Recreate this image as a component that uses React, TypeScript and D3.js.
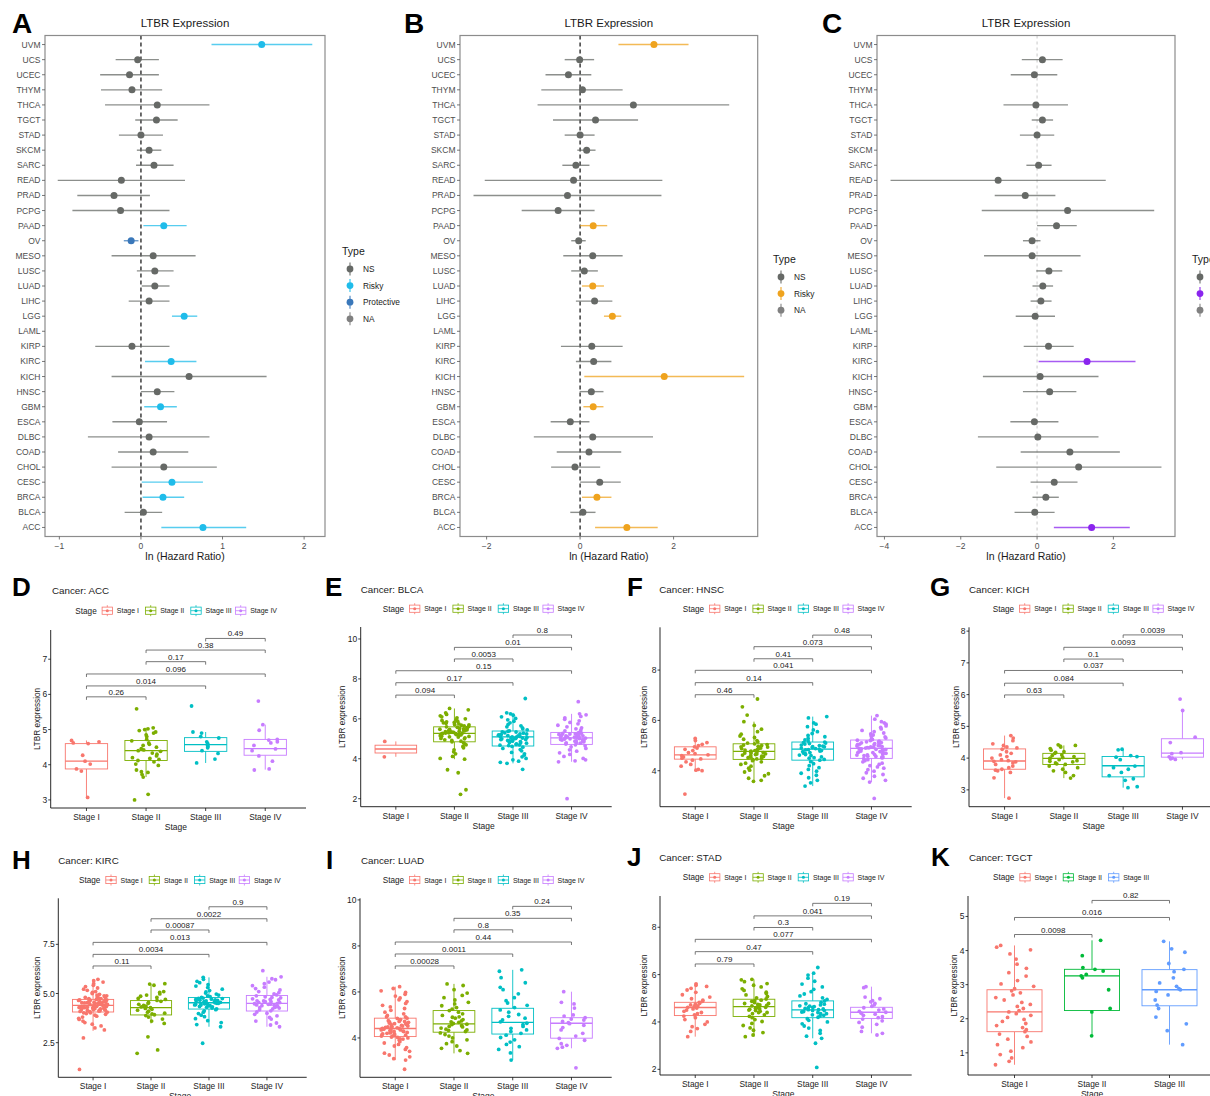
import React from "react";
import * as d3 from "d3";

const FONT = "'Liberation Sans', Arial, Helvetica, sans-serif";

// ---------- Forest plots (ln hazard ratio with 95% CI) ----------
const cancers = ["UVM","UCS","UCEC","THYM","THCA","TGCT","STAD","SKCM","SARC","READ","PRAD","PCPG","PAAD","OV","MESO","LUSC","LUAD","LIHC","LGG","LAML","KIRP","KIRC","KICH","HNSC","GBM","ESCA","DLBC","COAD","CHOL","CESC","BRCA","BLCA","ACC"];

const lnHrA = [1.48,-0.04,-0.14,-0.11,0.20,0.19,0.00,0.10,0.16,-0.24,-0.33,-0.25,0.28,-0.12,0.15,0.17,0.17,0.10,0.53,null,-0.11,0.37,0.59,0.20,0.24,-0.02,0.10,0.15,0.28,0.38,0.27,0.03,0.76];
const lowA = [0.865,-0.31,-0.50,-0.49,-0.44,-0.07,-0.27,-0.05,-0.06,-1.02,-0.78,-0.84,0.03,-0.21,-0.36,-0.05,0.01,-0.15,0.38,null,-0.56,0.05,-0.36,0.0,0.04,-0.35,-0.65,-0.28,-0.36,0.01,0.02,-0.20,0.25];
const highA = [2.10,0.22,0.22,0.26,0.84,0.45,0.27,0.25,0.40,0.54,0.11,0.35,0.56,-0.03,0.67,0.40,0.35,0.35,0.69,null,0.35,0.68,1.54,0.41,0.44,0.32,0.84,0.58,0.93,0.76,0.53,0.26,1.29];
const typeA = ["Risky","NS","NS","NS","NS","NS","NS","NS","NS","NS","NS","NS","Risky","Protective","NS","NS","NS","NS","Risky",null,"NS","Risky","NS","NS","Risky","NS","NS","NS","NS","Risky","Risky","NS","Risky"];

const lnHrB = [1.58,-0.01,-0.25,0.05,1.14,0.33,0.0,0.14,-0.09,-0.14,-0.27,-0.47,0.28,-0.03,0.27,0.09,0.27,0.31,0.69,null,0.25,0.29,1.80,0.24,0.28,-0.21,0.27,0.19,-0.11,0.42,0.36,0.06,1.0];
const lowB = [0.82,-0.33,-0.74,-0.83,-0.91,-0.58,-0.33,-0.06,-0.38,-2.04,-2.28,-1.25,0.0,-0.19,-0.36,-0.19,0.04,-0.09,0.51,null,-0.41,-0.09,0.09,-0.01,0.07,-0.63,-0.99,-0.5,-0.62,0.0,0.04,-0.21,0.32];
const highB = [2.32,0.30,0.24,0.91,3.19,1.24,0.31,0.33,0.20,1.76,1.74,0.31,0.58,0.12,0.91,0.38,0.51,0.69,0.88,null,0.91,0.67,3.51,0.5,0.5,0.20,1.56,0.88,0.43,0.87,0.67,0.33,1.66];
const typeB = ["Risky","NS","NS","NS","NS","NS","NS","NS","NS","NS","NS","NS","Risky","NS","NS","NS","Risky","NS","Risky",null,"NS","NS","Risky","NS","Risky","NS","NS","NS","NS","NS","Risky","NS","Risky"];

const lnHrC = [null,0.14,-0.07,null,-0.03,0.14,0.0,null,0.04,-1.02,-0.31,0.80,0.51,-0.13,-0.13,0.31,0.15,0.10,-0.05,null,0.30,1.31,0.08,0.33,null,-0.07,0.02,0.86,1.09,0.45,0.23,-0.06,1.43];
const lowC = [null,-0.40,-0.69,null,-0.88,-0.14,-0.45,null,-0.28,-3.84,-1.11,-1.45,0.0,-0.37,-1.39,-0.02,-0.12,-0.17,-0.56,null,-0.35,0.04,-1.42,-0.37,null,-0.70,-1.55,-0.43,-1.07,-0.17,-0.12,-0.59,0.44];
const highC = [null,0.67,0.53,null,0.81,0.42,0.45,null,0.38,1.80,0.48,3.07,1.04,0.09,1.14,0.66,0.42,0.38,0.47,null,0.96,2.58,1.61,1.03,null,0.56,1.61,2.17,3.26,1.06,0.57,0.46,2.43];
const typeC = [null,"NS","NS",null,"NS","NS","NS",null,"NS","NS","NS","NS","NS","NS","NS","NS","NS","NS","NS",null,"NS","Risky","NS","NS",null,"NS","NS","NS","NS","NS","NS","NS","Risky"];

const ticksA = [-1, 0, 1, 2];
const ticksB = [-2, 0, 2];
const ticksC = [-4, -2, 0, 2];
const legendA = ["NS", "Risky", "Protective", "NA"];
const legendBC = ["NS", "Risky", "NA"];

// ---------- Box plots by stage ----------
const stages4 = ["Stage I", "Stage II", "Stage III", "Stage IV"];
const stages3 = ["Stage I", "Stage II", "Stage III"];
const stageColors = ["#F8766D", "#7CAE00", "#00BFC4", "#C77CFF"];
const stageColors3 = ["#F8766D", "#00BA38", "#619CFF"];
const pairs4 = [[0,1],[0,2],[0,3],[1,2],[1,3],[2,3]];
const pairs3 = [[0,1],[0,2],[1,2]];

// box stats: [lower whisker, Q1, median, Q3, upper whisker]
const accBoxes = [[3.07,3.88,4.10,4.60,4.69],[3.65,4.12,4.40,4.69,5.05],[4.05,4.38,4.57,4.77,4.93],[3.86,4.27,4.46,4.72,5.14]];
const accPoints = [
  [4.69,4.65,4.62,4.60,4.27,4.10,4.02,3.88,3.82,3.07],
  [5.59,5.05,5.02,5.00,4.97,4.93,4.90,4.85,4.80,4.72,4.68,4.62,4.58,4.55,4.50,4.46,4.42,4.40,4.38,4.33,4.30,4.25,4.20,4.18,4.15,4.12,4.08,4.02,3.98,3.85,3.80,3.78,3.72,3.65,3.16,3.00],
  [5.67,4.93,4.90,4.80,4.76,4.65,4.60,4.55,4.52,4.48,4.40,4.32,4.16,4.05],
  [5.81,5.14,4.98,4.72,4.70,4.65,4.62,4.55,4.45,4.40,4.25,4.10,3.88,3.85],
];
const accP = ["0.26","0.014","0.096","0.17","0.38","0.49"];
const accBracketY = [5.93,6.24,6.58,6.93,7.26,7.59];

const blcaBoxes = [[4.10,4.29,4.49,4.68,4.87],[3.98,4.85,5.27,5.60,6.52],[3.77,4.64,5.10,5.39,6.30],[3.85,4.72,5.05,5.32,6.25]];
const blcaPoints = [
  [4.87,4.10],
  [6.52,6.45,6.30,6.22,6.15,6.10,6.05,6.00,5.95,5.92,5.88,5.85,5.82,5.80,5.78,5.75,5.72,5.70,5.68,5.65,5.62,5.60,5.58,5.55,5.52,5.50,5.48,5.45,5.42,5.40,5.38,5.35,5.32,5.30,5.28,5.27,5.25,5.22,5.20,5.18,5.15,5.12,5.10,5.05,5.00,4.95,4.92,4.88,4.85,4.80,4.75,4.70,4.62,4.55,4.45,4.35,4.25,4.12,4.02,3.98,3.45,3.30,2.45,2.22,5.33,5.21,5.44,5.13,5.56,5.26,5.38,5.09,5.47,5.29,5.17,5.41,5.23,5.36,5.02],
  [7.02,6.30,6.25,6.18,6.10,6.02,5.95,5.88,5.80,5.72,5.65,5.60,5.55,5.50,5.45,5.40,5.38,5.35,5.30,5.25,5.22,5.18,5.15,5.12,5.10,5.08,5.05,5.02,5.00,4.97,4.93,4.90,4.86,4.82,4.78,4.75,4.70,4.66,4.62,4.58,4.52,4.46,4.40,4.32,4.25,4.18,4.10,4.02,3.95,3.88,3.82,3.77,3.47,5.06,4.96,5.16,4.88,5.24,5.00,5.12,4.80,5.28,4.92,5.20,4.72,5.04,5.34,4.68],
  [6.86,6.25,6.20,6.12,6.05,5.98,5.90,5.82,5.75,5.68,5.60,5.55,5.50,5.45,5.40,5.36,5.32,5.30,5.27,5.24,5.20,5.17,5.14,5.10,5.08,5.05,5.03,5.00,4.97,4.94,4.90,4.86,4.82,4.78,4.74,4.70,4.65,4.60,4.52,4.45,4.38,4.30,4.22,4.12,4.02,3.95,3.90,3.85,2.00,5.01,5.12,4.92,5.22,4.85,5.06,5.18,4.95,5.28,4.88,5.10,4.99,5.15,4.80,5.25],
];
const blcaP = ["0.094","0.17","0.15","0.0053","0.01","0.8"];
const blcaBracketY = [7.19,7.81,8.41,9.0,9.58,10.2];

const hnscBoxes = [[4.00,4.46,4.63,4.95,5.28],[3.58,4.45,4.77,5.07,5.95],[3.39,4.42,4.86,5.14,6.15],[3.55,4.49,4.89,5.22,6.19]];
const hnscPoints = [
  [5.28,5.20,5.12,5.05,5.00,4.95,4.90,4.85,4.80,4.72,4.68,4.63,4.60,4.55,4.50,4.47,4.42,4.35,4.25,4.18,4.05,4.02,4.00,3.07],
  [6.85,6.54,6.21,5.95,5.80,5.65,5.55,5.45,5.38,5.32,5.25,5.20,5.15,5.10,5.07,5.04,5.00,4.97,4.94,4.90,4.87,4.84,4.80,4.78,4.75,4.72,4.70,4.67,4.64,4.60,4.57,4.54,4.50,4.47,4.44,4.40,4.35,4.30,4.25,4.18,4.10,4.02,3.95,3.88,3.80,3.70,3.62,3.58,4.82,4.66,4.95,4.58,4.74,5.02,4.52,4.88,4.70,4.62],
  [6.15,6.10,5.90,5.85,5.75,5.62,5.55,5.48,5.40,5.35,5.28,5.22,5.18,5.14,5.10,5.06,5.02,4.98,4.95,4.92,4.88,4.86,4.83,4.80,4.76,4.72,4.68,4.64,4.60,4.55,4.50,4.45,4.42,4.36,4.28,4.20,4.12,4.05,3.98,3.90,3.82,3.72,3.62,3.52,3.39,4.90,4.70,5.00,4.62,4.84,5.08,4.52,4.96,4.78,5.12],
  [6.19,6.05,5.95,5.90,5.85,5.78,5.72,5.66,5.60,5.55,5.50,5.46,5.42,5.38,5.34,5.30,5.27,5.24,5.21,5.18,5.15,5.12,5.09,5.06,5.03,5.00,4.98,4.95,4.93,4.91,4.89,4.87,4.84,4.81,4.78,4.75,4.72,4.69,4.66,4.63,4.60,4.57,4.54,4.51,4.48,4.44,4.40,4.35,4.30,4.25,4.20,4.15,4.10,4.04,3.98,3.92,3.85,3.78,3.70,3.62,3.55,2.90,4.92,4.76,5.04,4.68,4.85,5.15,4.58,4.96,4.72,5.08,4.64,4.88,5.20,4.55,4.82,4.99,4.70,5.11,4.62,4.90],
];
const hnscP = ["0.46","0.14","0.041","0.41","0.073","0.48"];
const hnscBracketY = [7.02,7.50,7.99,8.45,8.93,9.39];

const kichBoxes = [[2.74,3.65,3.91,4.29,4.71],[3.37,3.80,3.99,4.15,4.40],[3.07,3.41,3.76,4.05,4.28],[3.96,4.03,4.16,4.61,5.50]];
const kichPoints = [
  [4.71,4.63,4.55,4.45,4.40,4.35,4.32,4.28,4.20,4.15,4.10,4.05,4.00,3.95,3.92,3.90,3.88,3.85,3.80,3.75,3.70,3.65,3.62,3.60,3.55,3.38,2.74],
  [4.42,4.40,4.38,4.35,4.30,4.25,4.20,4.18,4.15,4.10,4.08,4.05,4.02,4.00,3.98,3.95,3.92,3.90,3.88,3.85,3.82,3.80,3.75,3.70,3.65,3.60,3.55,3.45,3.37],
  [4.28,4.26,4.08,4.05,4.03,3.95,3.75,3.70,3.65,3.55,3.45,3.35,3.30,3.10,3.07],
  [5.86,5.50,4.66,4.49,4.17,4.14,4.04,4.00,3.96,3.98],
];
const kichP = ["0.63","0.084","0.037","0.1","0.0093","0.0039"];
const kichBracketY = [5.99,6.36,6.76,7.12,7.49,7.88];

const kircBoxes = [[3.10,4.06,4.40,4.70,5.72],[3.48,3.91,4.28,4.64,5.48],[3.31,4.21,4.53,4.80,5.82],[3.31,4.11,4.50,4.90,5.85]];
const kircPoints = [
  [5.72,5.65,5.58,5.50,5.42,5.35,5.28,5.22,5.16,5.10,5.05,5.00,4.96,4.92,4.88,4.84,4.80,4.77,4.74,4.71,4.68,4.65,4.62,4.59,4.56,4.53,4.50,4.47,4.44,4.41,4.38,4.35,4.32,4.29,4.26,4.23,4.20,4.17,4.14,4.11,4.08,4.05,4.02,3.98,3.94,3.90,3.85,3.80,3.74,3.68,3.60,3.52,3.44,3.35,3.25,3.15,2.74,1.14,4.45,4.36,4.52,4.28,4.60,4.15,4.70,4.40,4.33,4.57,4.22,4.48,4.43,4.37,4.55,4.31,4.62,4.19,4.66,4.49,4.27,4.58,4.12,4.74,4.34,4.46,4.09,4.81,4.25,4.53,4.39,4.02,4.67,4.30,4.88,4.16,4.44],
  [5.50,5.48,5.42,5.10,5.05,4.98,4.92,4.86,4.80,4.75,4.70,4.65,4.60,4.55,4.50,4.45,4.40,4.36,4.32,4.28,4.24,4.20,4.15,4.10,4.05,4.00,3.96,3.92,3.88,3.80,3.70,3.60,3.48,2.80,2.13,1.96],
  [5.82,5.72,5.62,5.55,5.45,5.38,5.30,5.22,5.15,5.08,5.02,4.97,4.92,4.88,4.84,4.80,4.77,4.74,4.71,4.68,4.65,4.62,4.59,4.56,4.53,4.50,4.47,4.44,4.41,4.38,4.34,4.30,4.26,4.22,4.18,4.12,4.05,3.98,3.90,3.82,3.72,3.62,3.52,3.42,3.31,2.47,4.55,4.45,4.62,4.38,4.70,4.50,4.32,4.66,4.58,4.42,4.75,4.48],
  [6.16,5.85,5.75,5.70,5.58,5.50,5.40,5.32,5.25,5.18,5.10,5.04,4.98,4.93,4.88,4.83,4.78,4.73,4.68,4.63,4.58,4.54,4.50,4.46,4.42,4.38,4.34,4.30,4.26,4.22,4.17,4.12,4.06,4.00,3.94,3.86,3.78,3.70,3.60,3.50,3.40,3.31,4.55,4.40,4.70,4.35,4.62,4.48,4.80,4.28,4.58,4.45],
];
const kircP = ["0.11","0.0034","0.013","0.00087","0.0022","0.9"];
const kircBracketY = [6.40,6.99,7.60,8.23,8.80,9.41];

const luadBoxes = [[3.04,4.06,4.41,4.86,6.23],[3.33,4.25,4.61,5.19,6.35],[3.04,4.17,4.68,5.29,6.96],[3.55,3.99,4.64,4.88,6.01]];
const luadPoints = [
  [6.23,6.15,6.05,5.98,5.90,5.82,5.74,5.66,5.58,5.50,5.42,5.35,5.28,5.20,5.12,5.05,4.98,4.92,4.86,4.80,4.75,4.70,4.65,4.60,4.56,4.52,4.48,4.44,4.41,4.38,4.35,4.32,4.28,4.24,4.20,4.16,4.12,4.08,4.04,4.00,3.95,3.90,3.84,3.78,3.72,3.65,3.58,3.50,3.42,3.34,3.26,3.18,3.10,3.04,2.64,4.50,4.30,4.62,4.18,4.72,4.40,4.10,4.55,4.25,4.85,4.46,4.22,4.58,4.14,4.68,4.35,4.02,4.52,4.28,4.78,4.42,4.08,4.62,4.32,4.92,3.96,4.48,4.18,4.72,4.38],
  [6.35,6.28,6.10,5.95,5.85,5.75,5.65,5.55,5.48,5.40,5.32,5.25,5.19,5.12,5.05,4.98,4.92,4.86,4.80,4.74,4.68,4.63,4.58,4.53,4.48,4.43,4.38,4.33,4.28,4.22,4.15,4.08,4.00,3.92,3.84,3.75,3.65,3.55,3.45,3.33,4.60,4.70,4.50,4.90,4.35],
  [6.96,6.90,6.62,6.40,6.20,6.10,5.92,5.75,5.62,5.52,5.42,5.32,5.22,5.12,5.02,4.94,4.86,4.78,4.70,4.64,4.58,4.50,4.42,4.35,4.28,4.20,4.12,4.02,3.92,3.82,3.72,3.62,3.50,3.35,3.04],
  [6.01,5.55,5.48,5.30,5.00,4.95,4.88,4.82,4.78,4.72,4.66,4.62,4.55,4.45,4.35,4.20,4.08,3.98,3.90,3.75,3.68,3.60,3.55,2.70],
];
const luadP = ["0.00028","0.0011","0.44","0.8","0.35","0.24"];
const luadBracketY = [7.13,7.65,8.17,8.70,9.20,9.72];

const stadBoxes = [[3.38,4.27,4.61,4.83,5.61],[3.38,4.23,4.65,4.96,5.80],[3.31,4.18,4.51,4.89,6.06],[3.52,4.15,4.41,4.62,5.49]];
const stadPoints = [
  [5.61,5.55,5.50,5.42,5.35,5.25,5.15,5.05,4.98,4.92,4.87,4.83,4.79,4.75,4.72,4.68,4.65,4.62,4.59,4.55,4.50,4.45,4.40,4.35,4.30,4.25,4.18,4.10,4.00,3.90,3.80,3.72,3.60,3.38],
  [5.80,5.78,5.70,5.62,5.55,5.48,5.40,5.33,5.26,5.20,5.14,5.08,5.02,4.97,4.92,4.87,4.82,4.78,4.74,4.70,4.66,4.62,4.58,4.54,4.50,4.45,4.40,4.35,4.30,4.24,4.18,4.10,4.02,3.94,3.85,3.75,3.65,3.55,3.45,3.38,4.68,4.55,4.78,4.48,4.62,4.85,4.40,4.72,4.58,4.90],
  [6.30,6.06,5.98,5.85,5.72,5.60,5.48,5.38,5.28,5.18,5.10,5.02,4.95,4.89,4.83,4.77,4.72,4.67,4.62,4.57,4.52,4.48,4.44,4.40,4.35,4.30,4.25,4.20,4.14,4.07,4.00,3.92,3.83,3.74,3.64,3.52,3.40,3.31,3.10,2.08,4.55,4.42,4.65,4.35,4.60,4.48,4.75,4.28,4.52,4.68],
  [5.49,5.45,5.05,4.98,4.90,4.85,4.78,4.72,4.66,4.60,4.55,4.50,4.45,4.41,4.37,4.33,4.28,4.22,4.18,4.12,4.05,3.98,3.90,3.78,3.60,3.52,3.45],
];
const stadP = ["0.79","0.47","0.077","0.3","0.041","0.19"];
const stadBracketY = [6.45,6.97,7.49,7.99,8.48,9.01];

const tgctBoxes = [[0.65,1.62,2.20,2.85,4.15],[1.50,2.24,3.26,3.45,4.30],[1.24,2.38,2.85,3.44,4.27]];
const tgctPoints = [
  [4.15,4.10,4.02,3.90,3.75,3.60,3.48,3.35,3.25,3.12,3.02,2.95,2.88,2.82,2.76,2.70,2.62,2.55,2.48,2.42,2.36,2.30,2.24,2.20,2.15,2.10,2.04,1.98,1.92,1.86,1.80,1.74,1.68,1.62,1.55,1.48,1.40,1.32,1.24,1.15,1.05,0.95,0.85,0.75,0.65],
  [4.30,3.85,3.50,3.45,3.40,3.30,3.26,3.20,2.85,2.30,2.20,1.50],
  [4.27,4.05,3.95,3.62,3.45,3.38,3.20,3.05,2.95,2.88,2.85,2.80,2.70,2.55,2.40,2.30,2.05,1.85,1.65,1.24],
];
const tgctP = ["0.0098","0.016","0.82"];
const tgctBracketY = [4.47,4.97,5.47];

// ---------- Layout ----------
const FT = 35.5;
const FB = 536.5;

const forestPanels = [
  { letter: "A", lx: 12, x0: 45, x1: 325, est: lnHrA, lo: lowA, hi: highA, type: typeA, ticks: ticksA,
    colors: { NS: "#666966", Risky: "#1FBCEA", Protective: "#3A78BA", NA: "#808080" }, legend: legendA, legX: 342, legY: 251,
    zero: { color: "#3c3c3c", width: 1.5, dash: "4,3" } },
  { letter: "B", lx: 404, x0: 460, x1: 757.7, est: lnHrB, lo: lowB, hi: highB, type: typeB, ticks: ticksB,
    colors: { NS: "#666966", Risky: "#EFA31E", NA: "#808080" }, legend: legendBC, legX: 773, legY: 259,
    zero: { color: "#3c3c3c", width: 1.5, dash: "4,3" } },
  { letter: "C", lx: 822, x0: 877, x1: 1175, est: lnHrC, lo: lowC, hi: highC, type: typeC, ticks: ticksC,
    colors: { NS: "#666966", Risky: "#8A24EE", NA: "#808080" }, legend: legendBC, legX: 1192, legY: 259,
    zero: { color: "#c8c8c8", width: 1, dash: "3,3" } },
];

const boxPanels = [
  { letter: "D", lx: 12, ly: 596, name: "ACC", tx: 52, ty: 594, legX: 75.3, legY: 610.7, axL: 50.7, axR: 301, axT: 630, axB: 808, yDom: [2.77, 7.83], yTicks: [3,4,5,6,7], yFmt: "d", ylab: -14,
    stages: stages4, colors: stageColors, boxes: accBoxes, points: accPoints, pv: accP, br: accBracketY, pairs: pairs4 },
  { letter: "E", lx: 325, ly: 596, name: "BLCA", tx: 360.7, ty: 593, legX: 382.7, legY: 608.7, axL: 360.7, axR: 606.7, axT: 627, axB: 806.7, yDom: [1.6, 10.6], yTicks: [2,4,6,8,10], yFmt: "d", ylab: -19,
    stages: stages4, colors: stageColors, boxes: blcaBoxes, points: blcaPoints, pv: blcaP, br: blcaBracketY, pairs: pairs4 },
  { letter: "F", lx: 627, ly: 596, name: "HNSC", tx: 659.3, ty: 593, legX: 682.7, legY: 608.7, axL: 660, axR: 906.7, axT: 627.3, axB: 806.7, yDom: [2.57, 9.70], yTicks: [4,6,8], yFmt: "d", ylab: -16,
    stages: stages4, colors: stageColors, boxes: hnscBoxes, points: hnscPoints, pv: hnscP, br: hnscBracketY, pairs: pairs4 },
  { letter: "G", lx: 930, ly: 596, name: "KICH", tx: 969, ty: 593, legX: 992.7, legY: 608.7, axL: 969, axR: 1218, axT: 627.3, axB: 806.7, yDom: [2.47, 8.12], yTicks: [3,4,5,6,7,8], yFmt: "d", ylab: -13.5,
    stages: stages4, colors: stageColors, boxes: kichBoxes, points: kichPoints, pv: kichP, br: kichBracketY, pairs: pairs4 },
  { letter: "H", lx: 12, ly: 869, name: "KIRC", tx: 58.3, ty: 864, legX: 79, legY: 880, axL: 58.3, axR: 301.7, axT: 898.3, axB: 1077.3, yDom: [0.74, 9.84], yTicks: [2.5,5,7.5], yFmt: ".1f", ylab: -21.6,
    stages: stages4, colors: stageColors, boxes: kircBoxes, points: kircPoints, pv: kircP, br: kircBracketY, pairs: pairs4 },
  { letter: "I", lx: 326, ly: 869, name: "LUAD", tx: 361, ty: 864, legX: 382.7, legY: 880, axL: 360, axR: 606.7, axT: 898.3, axB: 1077.3, yDom: [2.29, 10.07], yTicks: [4,6,8,10], yFmt: "d", ylab: -18.3,
    stages: stages4, colors: stageColors, boxes: luadBoxes, points: luadPoints, pv: luadP, br: luadBracketY, pairs: pairs4 },
  { letter: "J", lx: 627, ly: 866, name: "STAD", tx: 659.3, ty: 860.5, legX: 682.7, legY: 877.3, axL: 660, axR: 906.7, axT: 896, axB: 1075, yDom: [1.76, 9.32], yTicks: [2,4,6,8], yFmt: "d", ylab: -16,
    stages: stages4, colors: stageColors, boxes: stadBoxes, points: stadPoints, pv: stadP, br: stadBracketY, pairs: pairs4 },
  { letter: "K", lx: 931, ly: 866, name: "TGCT", tx: 969, ty: 860.5, legX: 993, legY: 877.3, axL: 968, axR: 1216, axT: 896, axB: 1075, yDom: [0.35, 5.6], yTicks: [1,2,3,4,5], yFmt: "d", ylab: -14,
    stages: stages3, colors: stageColors3, boxes: tgctBoxes, points: tgctPoints, pv: tgctP, br: tgctBracketY, pairs: pairs3 },
];

const legendKeyOffsets = [32, 75.4, 120.7, 165.4];

// deterministic horizontal jitter for the stage points
function jitter(i: number, g: number) {
  const s = Math.sin(i * 12.9898 + g * 78.233) * 43758.5453;
  return s - Math.floor(s) - 0.5;
}

function Forest({ p }: { p: any }) {
  const y = d3.scalePoint<string>().domain(cancers).range([FT, FB]).padding(0.6);
  const vals = [...p.lo, ...p.hi].filter((v: any) => v != null) as number[];
  const [mn, mx] = d3.extent(vals) as [number, number];
  const pad = (mx - mn) * 0.05;
  const x = d3.scaleLinear().domain([mn - pad, mx + pad]).range([p.x0, p.x1]);
  const cx = (p.x0 + p.x1) / 2;
  return (
    <g>
      <text x={p.lx} y={33} fontSize={28} fontWeight="bold" fill="#000">{p.letter}</text>
      <text x={cx} y={27} fontSize={11.5} textAnchor="middle" fill="#1a1a1a">LTBR Expression</text>
      <line x1={x(0)} x2={x(0)} y1={FT} y2={FB} stroke={p.zero.color} strokeWidth={p.zero.width} strokeDasharray={p.zero.dash} />
      {cancers.map((c, i) => {
        const e = p.est[i];
        if (e == null) return null;
        const col = p.colors[p.type[i]];
        const yy = y(c) as number;
        return (
          <g key={c}>
            <line x1={x(p.lo[i])} x2={x(p.hi[i])} y1={yy} y2={yy} stroke={col} strokeWidth={1.4} strokeOpacity={0.75} />
            <circle cx={x(e)} cy={yy} r={3.5} fill={col} />
          </g>
        );
      })}
      <rect x={p.x0} y={FT} width={p.x1 - p.x0} height={FB - FT} fill="none" stroke="#8c8c8c" strokeWidth={1.2} />
      {cancers.map((c) => {
        const yy = y(c) as number;
        return (
          <g key={"t" + c}>
            <line x1={p.x0 - 3} x2={p.x0} y1={yy} y2={yy} stroke="#555" strokeWidth={0.8} />
            <text x={p.x0 - 4.5} y={yy + 3} fontSize={8.5} textAnchor="end" fill="#4d4d4d">{c}</text>
          </g>
        );
      })}
      {p.ticks.map((t: number) => (
        <g key={"x" + t}>
          <line x1={x(t)} x2={x(t)} y1={FB} y2={FB + 3} stroke="#555" strokeWidth={0.8} />
          <text x={x(t)} y={FB + 12} fontSize={8.5} textAnchor="middle" fill="#4d4d4d">{t < 0 ? "\u2212" + Math.abs(t) : t}</text>
        </g>
      ))}
      <text x={cx} y={560} fontSize={10.5} textAnchor="middle" fill="#1a1a1a">ln (Hazard Ratio)</text>
      <g>
        <text x={p.legX} y={p.legY + 4} fontSize={10.5} fill="#1a1a1a">Type</text>
        {p.legend.map((l: string, k: number) => {
          const ly = p.legY + 18 + k * 16.6;
          const col = p.colors[l];
          return (
            <g key={l}>
              <line x1={p.legX + 8} x2={p.legX + 8} y1={ly - 6.5} y2={ly + 6.5} stroke={col} strokeWidth={1.4} strokeOpacity={0.75} />
              <circle cx={p.legX + 8} cy={ly} r={3.4} fill={col} />
              <text x={p.legX + 21} y={ly + 3} fontSize={8.3} fill="#1a1a1a">{l}</text>
            </g>
          );
        })}
      </g>
    </g>
  );
}

function BoxPanel({ p, g }: { p: any; g: number }) {
  const x = d3.scalePoint<string>().domain(p.stages).range([p.axL, p.axR]).padding(0.6);
  const y = d3.scaleLinear().domain(p.yDom).range([p.axB, p.axT]);
  const step = x.step();
  const bw = step * 0.71;
  const fmt = d3.format(p.yFmt);
  const midX = (p.axL + p.axR) / 2;
  const midY = (p.axT + p.axB) / 2;
  return (
    <g>
      <text x={p.lx} y={p.ly} fontSize={26} fontWeight="bold" fill="#000">{p.letter}</text>
      <text x={p.tx} y={p.ty} fontSize={9.8} fill="#222">{"Cancer: " + p.name}</text>
      <g>
        <text x={p.legX} y={p.legY + 3} fontSize={8.2} fill="#222">Stage</text>
        {p.stages.map((s: string, k: number) => {
          const kx = p.legX + legendKeyOffsets[k];
          const ky = p.legY;
          const col = p.colors[k];
          return (
            <g key={s}>
              <line x1={kx} x2={kx} y1={ky - 5.5} y2={ky + 5.5} stroke={col} strokeWidth={0.8} />
              <rect x={kx - 5.2} y={ky - 3.6} width={10.4} height={7.2} fill="#fff" stroke={col} strokeWidth={0.8} />
              <line x1={kx - 5.2} x2={kx + 5.2} y1={ky} y2={ky} stroke={col} strokeWidth={0.8} />
              <circle cx={kx} cy={ky} r={1.5} fill={col} />
              <text x={kx + 9.5} y={ky + 2.5} fontSize={7} fill="#222">{s}</text>
            </g>
          );
        })}
      </g>
      {/* boxes */}
      {p.boxes.map((b: number[], k: number) => {
        const cx = x(p.stages[k]) as number;
        const col = p.colors[k];
        return (
          <g key={"b" + k}>
            <line x1={cx} x2={cx} y1={y(b[4])} y2={y(b[3])} stroke={col} strokeWidth={0.9} />
            <line x1={cx} x2={cx} y1={y(b[1])} y2={y(b[0])} stroke={col} strokeWidth={0.9} />
            <rect x={cx - bw / 2} y={y(b[3])} width={bw} height={y(b[1]) - y(b[3])} fill="#fff" stroke={col} strokeWidth={0.9} />
            <line x1={cx - bw / 2} x2={cx + bw / 2} y1={y(b[2])} y2={y(b[2])} stroke={col} strokeWidth={1.3} />
          </g>
        );
      })}
      {/* jittered points */}
      {p.points.map((pts: number[], k: number) => {
        const cx = x(p.stages[k]) as number;
        const col = p.colors[k];
        return (
          <g key={"p" + k} fill={col}>
            {pts.map((v, i) => (
              <circle key={i} cx={cx + jitter(i, g * 7 + k) * 0.5 * step} cy={y(v)} r={1.9} />
            ))}
          </g>
        );
      })}
      {/* pairwise comparison brackets */}
      {p.pairs.map((pr: number[], k: number) => {
        const xa = x(p.stages[pr[0]]) as number;
        const xb = x(p.stages[pr[1]]) as number;
        const yy = y(p.br[k]);
        return (
          <g key={"c" + k}>
            <path d={`M${xa},${yy + 3}V${yy}H${xb}V${yy + 3}`} fill="none" stroke="#555" strokeWidth={0.8} />
            <text x={(xa + xb) / 2} y={yy - 2} fontSize={8} textAnchor="middle" fill="#222">{p.pv[k]}</text>
          </g>
        );
      })}
      {/* axes */}
      <line x1={p.axL} x2={p.axL} y1={p.axT} y2={p.axB} stroke="#111" strokeWidth={0.9} />
      <line x1={p.axL} x2={p.axR + 5} y1={p.axB} y2={p.axB} stroke="#111" strokeWidth={0.9} />
      {p.yTicks.map((t: number) => (
        <g key={"y" + t}>
          <line x1={p.axL - 2.5} x2={p.axL} y1={y(t)} y2={y(t)} stroke="#111" strokeWidth={0.8} />
          <text x={p.axL - 3.5} y={y(t) + 3} fontSize={8.5} textAnchor="end" fill="#222">{fmt(t)}</text>
        </g>
      ))}
      {p.stages.map((s: string) => (
        <g key={"x" + s}>
          <line x1={x(s)} x2={x(s)} y1={p.axB} y2={p.axB + 3} stroke="#111" strokeWidth={0.8} />
          <text x={x(s)} y={p.axB + 12} fontSize={8.4} textAnchor="middle" fill="#222">{s}</text>
        </g>
      ))}
      <text x={midX} y={p.axB + 22} fontSize={8.5} textAnchor="middle" fill="#222">Stage</text>
      <text transform={`translate(${p.axL + p.ylab + 3},${midY}) rotate(-90)`} fontSize={8.2} textAnchor="middle" fill="#222">LTBR expression</text>
    </g>
  );
}

export default function App() {
  return (
    <svg width={1210} height={1096} viewBox="0 0 1210 1096"
      style={{ position: "absolute", left: 0, top: 0, background: "#fff", fontFamily: FONT }}>
      <rect x={0} y={0} width={1210} height={1096} fill="#fff" />
      {forestPanels.map((p) => <Forest key={p.letter} p={p} />)}
      {boxPanels.map((p, i) => <BoxPanel key={p.letter} p={p} g={i} />)}
    </svg>
  );
}
